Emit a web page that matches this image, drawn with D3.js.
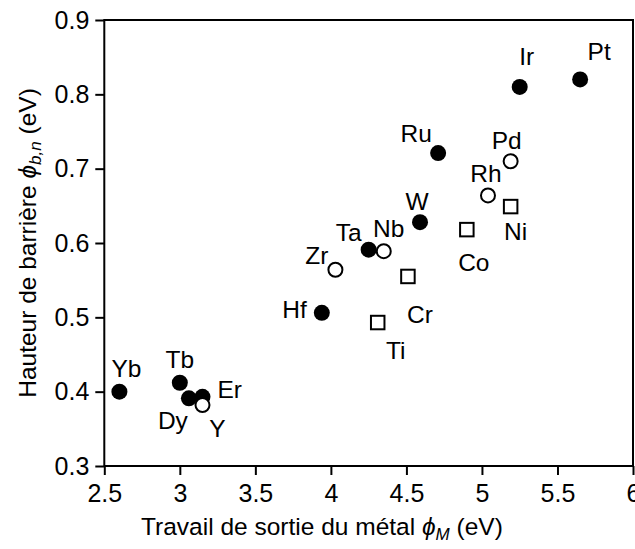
<!DOCTYPE html>
<html>
<head>
<meta charset="utf-8">
<script src="https://cdn.jsdelivr.net/npm/d3@7"></script>
<style>
  html, body { margin: 0; padding: 0; background: #fff; }
  svg { display: block; }
  text { font-family: "Liberation Sans", Arial, Helvetica, sans-serif; fill: #000; }
</style>
</head>
<body>
<svg id="chart" width="635" height="549"></svg>
<script>
// ---- data ----
const metals       = ["Yb", "Tb", "Dy", "Er", "Y", "Hf", "Zr", "Ta", "Nb", "W", "Cr", "Ti", "Co", "Ni", "Ru", "Pd", "Rh", "Ir", "Pt"];
const workFunction = [2.60, 3.00, 3.06, 3.15, 3.15, 3.94, 4.03, 4.25, 4.35, 4.59, 4.51, 4.31, 4.90, 5.19, 4.71, 5.19, 5.04, 5.25, 5.65];
const barrierHeight= [0.400, 0.412, 0.391, 0.393, 0.382, 0.506, 0.564, 0.591, 0.589, 0.628, 0.555, 0.493, 0.618, 0.649, 0.721, 0.710, 0.664, 0.810, 0.820];
const markerType   = ["filled", "filled", "filled", "filled", "open", "filled", "open", "filled", "open", "filled", "square", "square", "square", "square", "filled", "open", "open", "filled", "filled"];
const xTicks = [2.5, 3, 3.5, 4, 4.5, 5, 5.5, 6];
const yTicks = [0.3, 0.4, 0.5, 0.6, 0.7, 0.8, 0.9];
const xTickLabels = ["2.5", "3", "3.5", "4", "4.5", "5", "5.5", "6"];
const yTickLabels = ["0.3", "0.4", "0.5", "0.6", "0.7", "0.8", "0.9"];

// ---- label placement (layout only) ----
const labelPlacement = {
  Yb: [7, -15, "middle"], Tb: [0, -15, "middle"], Dy: [-16, 31, "middle"], Er: [15, 1, "start"],
  Y: [15, 32, "middle"], Hf: [-15, 5, "end"], Zr: [-7, -6, "end"], Ta: [-20, -9, "middle"],
  Nb: [5, -14, "middle"], W: [-3, -12, "middle"], Cr: [12, 47, "middle"], Ti: [18, 36, "middle"],
  Co: [7, 41, "middle"], Ni: [5, 33, "middle"], Ru: [-22, -11, "middle"], Pd: [-4, -12, "middle"],
  Rh: [-2, -13, "middle"], Ir: [7, -22, "middle"], Pt: [19, -19, "middle"]
};

const svg = d3.select("#chart");
const mLeft = 104.3, mRight = 633, mTop = 20, mBottom = 466;

const x = d3.scaleLinear().domain([2.5, 6]).range([mLeft, mRight]);
const y = d3.scaleLinear().domain([0.3, 0.9]).range([mBottom, mTop]);

// axes
const xAxis = d3.axisBottom(x).tickValues(xTicks).tickFormat((d, i) => xTickLabels[i]).tickSize(9).tickSizeOuter(0).tickPadding(9);
const yAxis = d3.axisLeft(y).tickValues(yTicks).tickFormat((d, i) => yTickLabels[i]).tickSize(9).tickSizeOuter(0).tickPadding(6);

const gx = svg.append("g").attr("transform", `translate(0,${mBottom})`).call(xAxis);
const gy = svg.append("g").attr("transform", `translate(${mLeft},0)`).call(yAxis);
[gx, gy].forEach(g => {
  g.select(".domain").remove();
  g.selectAll(".tick line").attr("stroke", "#000").attr("stroke-width", 2);
  g.selectAll(".tick text").attr("font-size", 25).attr("fill", "#000")
    .style("font-family", "'Liberation Sans', Arial, sans-serif");
});

// frame
svg.append("rect")
  .attr("x", mLeft).attr("y", mTop)
  .attr("width", mRight - mLeft).attr("height", mBottom - mTop)
  .attr("fill", "none").attr("stroke", "#000").attr("stroke-width", 2);

// points
const pts = metals.map((m, i) => ({ name: m, x: workFunction[i], y: barrierHeight[i], t: markerType[i] }));

const g = svg.append("g");
pts.forEach(p => {
  const cx = x(p.x), cy = y(p.y);
  if (p.t === "filled") {
    g.append("circle").attr("cx", cx).attr("cy", cy).attr("r", 8).attr("fill", "#000");
  } else if (p.t === "open") {
    g.append("circle").attr("cx", cx).attr("cy", cy).attr("r", 7).attr("fill", "#fff").attr("stroke", "#000").attr("stroke-width", 2);
  } else {
    const s = 13.5;
    g.append("rect").attr("x", cx - s / 2).attr("y", cy - s / 2).attr("width", s).attr("height", s)
      .attr("fill", "#fff").attr("stroke", "#000").attr("stroke-width", 2);
  }
});

// labels
pts.forEach(p => {
  const lp = labelPlacement[p.name];
  g.append("text")
    .attr("x", x(p.x) + lp[0]).attr("y", y(p.y) + lp[1])
    .attr("text-anchor", lp[2]).attr("font-size", 24.5)
    .text(p.name);
});

// axis titles
const xt = svg.append("text").attr("x", 141).attr("y", 535).attr("text-anchor", "start").attr("font-size", 24.5);
xt.append("tspan").text("Travail de sortie du métal ");
xt.append("tspan").attr("font-style", "italic").text("ϕ");
xt.append("tspan").attr("font-style", "italic").attr("font-size", 17).attr("dy", 5).text("M");
xt.append("tspan").attr("dy", -5).text(" (eV)");

const yt = svg.append("text").attr("transform", `translate(36,${(mTop + mBottom) / 2}) rotate(-90)`).attr("text-anchor", "middle").attr("font-size", 24.5);
yt.append("tspan").text("Hauteur de barrière ");
yt.append("tspan").attr("font-style", "italic").text("ϕ");
yt.append("tspan").attr("font-style", "italic").attr("font-size", 17).attr("dy", 5).text("b,n");
yt.append("tspan").attr("dy", -5).text(" (eV)");
</script>
</body>
</html>
